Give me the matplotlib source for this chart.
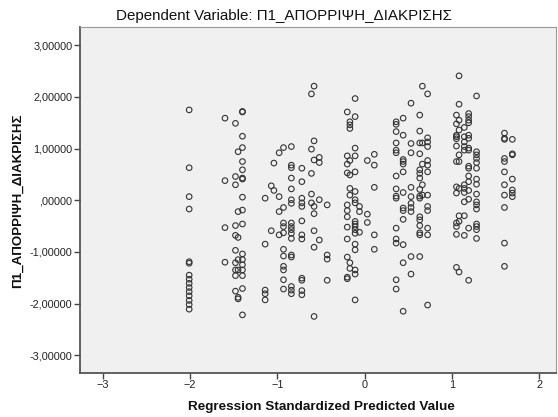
import matplotlib
matplotlib.use('Agg')
import matplotlib.pyplot as plt
from matplotlib.ticker import FuncFormatter

plt.rcParams['font.family'] = ['Liberation Sans', 'DejaVu Sans']

# predicted value (x) of each column and the residual values (y) in it
col_x = [-2.01, -1.60, -1.48, -1.45, -1.40, -1.14, -1.07, -1.04, -0.98, -0.93,
         -0.84, -0.72, -0.61, -0.58, -0.52, -0.43, -0.20, -0.17, -0.11, -0.06,
         0.03, 0.11, 0.36, 0.44, 0.53, 0.63, 0.66, 0.72, 1.05, 1.08,
         1.14, 1.19, 1.28, 1.60, 1.69]

col_y = [
    [1.75, 0.63, 0.07, -0.17, -1.19, -1.22, -1.45, -1.53, -1.61, -1.69, -1.77, -1.85, -1.94, -2.02, -2.11],
    [1.59, 0.38, -0.53, -1.20],
    [1.49, 0.46, 0.30, -0.49, -0.68, -0.97, -1.21, -1.35, -1.46, -1.76],
    [0.94, -0.22, -0.72, -1.15, -1.35, -1.88, -1.91],
    [1.71, 1.72, 1.24, 1.02, 0.75, 0.59, 0.43, 0.41, 0.06, -0.19, -0.46, -1.04, -1.15, -1.25, -1.35, -1.46, -1.71, -2.22],
    [0.04, -0.85, -1.74, -1.81, -1.93],
    [0.28, -0.59],
    [0.72, 0.19],
    [0.92, 0.07, -0.22, -0.67],
    [1.02, -0.14, -0.44, -0.51, -0.63, -0.95, -1.08, -1.28, -1.35, -1.54, -1.72],
    [1.04, 0.68, 0.63, 0.43, 0.22, 0.01, -0.06, -0.44, -0.51, -0.57, -0.64, -0.74, -1.06, -1.10, -1.67, -1.74, -1.81],
    [0.62, 0.36, 0.04, -0.05, -0.12, -0.40, -0.67, -0.75, -1.51, -1.55, -1.75, -1.83],
    [2.06, 0.99, 0.52, 0.12, -0.05],
    [2.21, 1.15, 0.78, -0.12, -0.26, -0.59, -0.91, -2.25],
    [0.83, 0.73, 0.01, -0.77],
    [-0.09, -1.06, -1.14, -1.55],
    [1.71, 0.86, 0.70, 0.53, -0.09, -0.20, -0.32, -0.52, -0.75, -1.10, -1.49, -1.52],
    [1.52, 1.46, 1.39, 0.77, 0.49, 0.23, 0.10, -1.21, -1.32],
    [1.97, 1.62, 1.01, 0.86, 0.55, 0.17, 0.01, -0.05, -0.41, -0.46, -0.51, -0.57, -0.64, -0.85, -0.96, -1.35, -1.43, -1.93],
    [-0.12, -0.22, -0.62],
    [0.77, -0.27, -0.43],
    [0.89, 0.68, 0.25, -0.67, -0.95],
    [1.52, 1.47, 1.33, 1.11, 0.97, 0.92, 0.47, 0.22, 0.08, 0.04, -0.54, -0.75, -0.83, -1.54, -1.72],
    [1.59, 1.26, 0.79, 0.75, 0.70, 0.55, 0.15, -0.15, -0.20, -0.37, -0.86, -1.21, -2.15],
    [1.88, 1.10, 0.92, 0.25, 0.07, -0.06, -0.14, -0.22, -1.09, -1.43],
    [1.65, 1.34, 1.11, 0.90, 0.59, 0.52, 0.43, 0.21, 0.08, 0.04, -0.32, -0.38, -0.49, -0.63, -0.67, -1.09],
    [2.21, 1.11, 0.70, 0.30, 0.10],
    [2.06, 1.21, 1.13, 1.04, 0.77, 0.68, 0.55, 0.10, -0.12, -0.20, -0.54, -0.67, -2.03],
    [1.65, 1.48, 1.26, 1.23, 1.19, 1.05, 0.75, 0.26, 0.14, -0.44, -0.51, -0.66, -1.30],
    [2.41, 1.86, 1.55, 1.36, 0.88, 0.75, 0.23, -0.30, -0.41, -1.39],
    [1.41, 1.23, 1.13, 1.04, 0.97, 0.30, 0.23, 0.15, -0.03, -0.30, -0.68],
    [1.68, 1.62, 1.55, 1.50, 1.26, 1.20, 1.01, 0.97, 0.66, 0.62, 0.47, 0.36, 0.19, 0.02, -0.54, -1.55],
    [2.02, 0.94, 0.88, 0.81, 0.73, 0.62, 0.41, 0.31, 0.12, -0.03, -0.09, -0.17, -0.46, -0.51, -0.57, -0.74],
    [1.30, 1.20, 1.18, 0.81, 0.75, 0.55, 0.30, 0.10, -0.14, -0.83, -1.28],
    [1.18, 0.90, 0.88, 0.41, 0.20, 0.14, 0.07],
]

x_ticks = [-3, -2, -1, 0, 1, 2]
y_ticks = [-3, -2, -1, 0, 1, 2, 3]

xs, ys = [], []
for cx, vals in zip(col_x, col_y):
    xs += [cx] * len(vals)
    ys += vals

fig = plt.figure(figsize=(5.58, 4.17), dpi=100)
ax = fig.add_axes([80 / 558, 1 - 372.7 / 417, 476 / 558, 345.4 / 417])
ax.set_facecolor('#f0f0f0')

ax.scatter(xs, ys, s=16, facecolors='none', edgecolors='#333333', linewidths=0.8)

ax.set_xlim(-3.26, 2.19)
ax.set_ylim(-3.34, 3.35)
ax.set_xticks(x_ticks)
ax.set_yticks(y_ticks)


def spss_fmt(v, pos):
    s = f'{abs(v):.5f}'.replace('.', ',')
    if abs(v) < 1:
        s = s[1:]
    return ('-' if v < 0 else '') + s


ax.yaxis.set_major_formatter(FuncFormatter(spss_fmt))
ax.tick_params(direction='out', length=4, width=1, color='#444444',
               labelsize=7.8, labelcolor='#222222', pad=1.5)

for side in ['left', 'bottom']:
    ax.spines[side].set_color('#555555')
    ax.spines[side].set_linewidth(1.3)
for side in ['top', 'right']:
    ax.spines[side].set_color('#999999')
    ax.spines[side].set_linewidth(0.8)

fig.text(284 / 558, 1 - 16 / 417, 'Dependent Variable: Π1_ΑΠΟΡΡΙΨΗ_ΔΙΑΚΡΙΣΗΣ',
         ha='center', va='center', fontsize=10.9, color='#111111')
fig.text(321 / 558, 1 - 407 / 417, 'Regression Standardized Predicted Value',
         ha='center', va='center', fontsize=9.7, fontweight='bold', color='#111111')
fig.text(18 / 558, 1 - 201 / 417, 'Π1_ΑΠΟΡΡΙΨΗ_ΔΙΑΚΡΙΣΗΣ', rotation=90,
         ha='center', va='center', fontsize=9.6, fontweight='bold', color='#111111')

plt.savefig('out.png', dpi=100)
plt.close()
